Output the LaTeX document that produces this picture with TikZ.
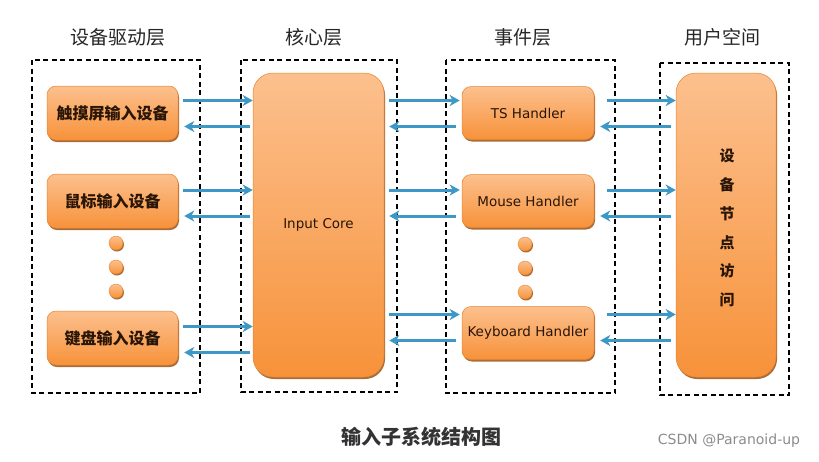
\documentclass[tikz,border=0pt]{standalone}
\usepackage{fontspec}
\setmainfont{DejaVu Sans}
\newfontfamily\cjk{Noto Sans CJK SC}
\usetikzlibrary{shadows,arrows.meta}
\definecolor{oTop}{HTML}{FCC08E}
\definecolor{oBot}{HTML}{F7923A}
\definecolor{oLine}{HTML}{E8842E}
\definecolor{oShadow}{HTML}{9A5418}
\definecolor{arrBlue}{HTML}{3E98C6}
\definecolor{txtDark}{HTML}{2A1606}
\begin{document}
\begin{tikzpicture}[x=1pt,y=-1pt,
  grp/.style={draw=black, line width=1.5pt, dash pattern=on 5pt off 3.5pt},
  obox/.style={draw=oLine, line width=0.5pt, top color=oTop, bottom color=oBot,
    rounded corners=9pt, inner sep=0pt, text=txtDark,
    drop shadow={shadow xshift=1pt, shadow yshift=-2pt, fill=oShadow, opacity=0.85}},
  devbox/.style={obox, minimum width=131pt, minimum height=54pt, font=\cjk\bfseries\fontsize{16}{16}\selectfont},
  hbox/.style={obox, minimum width=132pt, minimum height=53pt, font=\fontsize{13.5}{14}\selectfont},
  tallbox/.style={obox, rounded corners=20pt},
  dotn/.style={circle, draw=oLine, line width=0.4pt, top color=oTop, bottom color=oBot,
    minimum size=14pt, inner sep=0pt,
    drop shadow={shadow xshift=1pt, shadow yshift=-1.5pt, fill=oShadow, opacity=0.85}},
  ttl/.style={font=\cjk\fontsize{19}{19}\selectfont, text=black!85},
  arr/.style={draw=arrBlue, line width=3pt, -{Stealth[length=10pt, width=11pt, inset=3pt]}},
]
\useasboundingbox (0,0) rectangle (819,461);
\fill[white] (0,0) rectangle (819,461);

% titles
\node[ttl] (t1) at (118,37) {设备驱动层};
\node[ttl] (t2) at (314,37) {核心层};
\node[ttl] (t3) at (523,37) {事件层};
\node[ttl] (t4) at (722,37) {用户空间};

% group frames
\draw[grp] (32,60) rectangle (200,393);
\draw[grp] (241,60) rectangle (397,392);
\draw[grp] (446,60) rectangle (615,393);
\draw[grp] (660,63) rectangle (789,395);

% device layer
\node[devbox] (d1) at (112.5,113) {触摸屏输入设备};
\node[devbox] (d2) at (112.5,201) {鼠标输入设备};
\node[devbox] (d3) at (112.5,338) {键盘输入设备};
\node[dotn] (dd1) at (116,243) {};
\node[dotn] (dd2) at (116,267) {};
\node[dotn] (dd3) at (116,291) {};

% core
\node[tallbox, minimum width=131pt, minimum height=304pt, font=\fontsize{13.5}{14}\selectfont] (core) at (318.5,225) {Input Core};

% handlers
\node[hbox] (h1) at (528,113) {TS Handler};
\node[hbox] (h2) at (528,201) {Mouse Handler};
\node[hbox] (h3) at (528,333) {Keyboard Handler};
\node[dotn] (hd1) at (525,244) {};
\node[dotn] (hd2) at (525,268) {};
\node[dotn] (hd3) at (525,292) {};

% user space
\node[tallbox, minimum width=100pt, minimum height=304pt] (user) at (726,225) {};
\foreach \c [count=\i from 0] in {设,备,节,点,访,问}
  \node[font=\cjk\bfseries\fontsize{15}{15}\selectfont, text=txtDark] (u\i) at (727,156+28.8*\i) {\c};

% arrows device <-> core
\foreach \s/\dy in {d1/0, d2/-1.5, d3/-1} {
  \draw[arr] ([xshift=5pt,yshift={12.5pt+\dy pt}]\s.east) -- ([yshift={12.5pt+\dy pt}]\s.east -| core.west);
  \draw[arr] ([xshift=-3pt,yshift={-13.5pt+\dy pt}]\s.east -| core.west) -- ([xshift=6pt,yshift={-13.5pt+\dy pt}]\s.east);
}
% arrows core <-> handlers
\foreach \s/\dy in {h1/0, h2/-1.5, h3/6} {
  \draw[arr] ([xshift=5pt,yshift={12.5pt+\dy pt}]\s.west -| core.east) -- ([xshift=-2pt,yshift={12.5pt+\dy pt}]\s.west);
  \draw[arr] ([xshift=-6pt,yshift={-13.5pt+\dy pt}]\s.west) -- ([xshift=5pt,yshift={-13.5pt+\dy pt}]\s.west -| core.east);
}
% arrows handlers <-> user
\foreach \s/\dy in {h1/0, h2/-1.5, h3/6} {
  \draw[arr] ([xshift=13pt,yshift={12.5pt+\dy pt}]\s.east) -- ([yshift={12.5pt+\dy pt}]\s.east -| user.west);
  \draw[arr] ([xshift=-5pt,yshift={-13.5pt+\dy pt}]\s.east -| user.west) -- ([xshift=6pt,yshift={-13.5pt+\dy pt}]\s.east);
}

% caption
\node[font=\cjk\bfseries\fontsize{20}{20}\selectfont, text=black!80] (cap) at (421,437) {输入子系统结构图};
\node[font=\fontsize{14}{14}\selectfont, text=black!45] (csdn) at (729,441) {CSDN @Paranoid-up};
\end{tikzpicture}
\end{document}
